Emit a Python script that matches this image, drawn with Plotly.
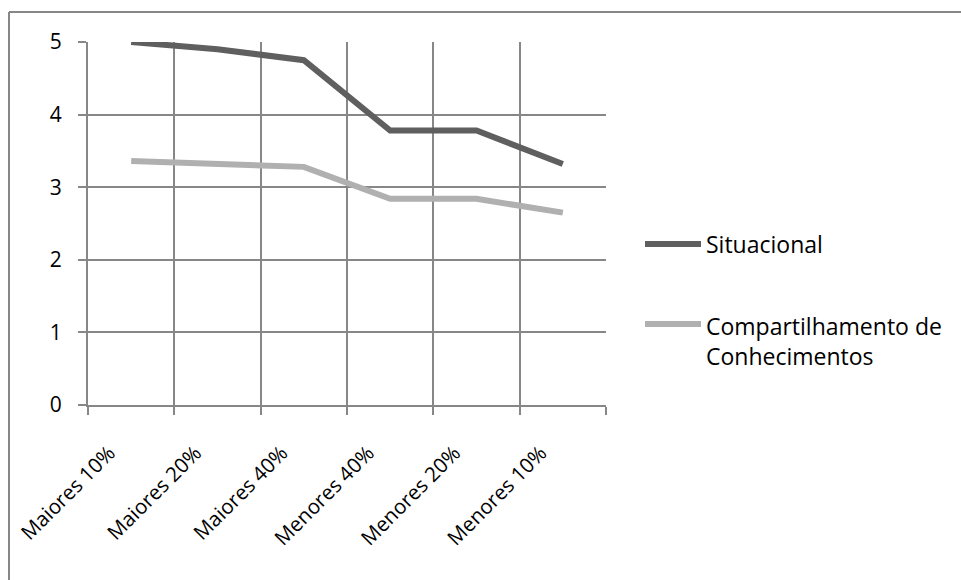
import plotly.graph_objects as go

# Categories and series values
categories = ["Maiores 10%", "Maiores 20%", "Maiores 40%",
              "Menores 40%", "Menores 20%", "Menores 10%"]
situacional = [5.0, 4.9, 4.75, 3.78, 3.78, 3.32]
compartilhamento = [3.36, 3.32, 3.28, 2.84, 2.84, 2.65]
series_names = ["Situacional", "Compartilhamento de<br>Conhecimentos"]
series_colors = ["#5f5f5f", "#b0b0b0"]
y_ticks = [0, 1, 2, 3, 4, 5]

W, H = 961, 580
L, R, T, B = 88, 355, 42, 175
PW, PH = W - L - R, H - T - B
FONT = "Open Sans"
FSIZE = 23
GRID = "#878787"


def px_x(x):
    return (x - L) / PW


def px_y(y):
    return (H - B - y) / PH


fig = go.Figure()
for name, vals, col in zip(series_names, [situacional, compartilhamento], series_colors):
    fig.add_trace(go.Scatter(
        x=categories, y=vals, mode="lines", name=name,
        line=dict(color=col, width=6), showlegend=False,
    ))

shapes = [
    # outer chart frame (top and left edges)
    dict(type="line", xref="paper", yref="paper",
         x0=px_x(9), x1=px_x(975), y0=px_y(12), y1=px_y(12),
         line=dict(color=GRID, width=2)),
    dict(type="line", xref="paper", yref="paper",
         x0=px_x(9), x1=px_x(9), y0=px_y(12), y1=px_y(590),
         line=dict(color=GRID, width=2)),
]
annotations = []
# legend entries
legend_rows = [244, 324]
for name, col, yc in zip(series_names, series_colors, legend_rows):
    shapes.append(dict(type="line", xref="paper", yref="paper",
                       x0=px_x(645), x1=px_x(701), y0=px_y(yc), y1=px_y(yc),
                       line=dict(color=col, width=6)))
    multi = "<br>" in name
    annotations.append(dict(
        xref="paper", yref="paper", x=px_x(704),
        y=px_y(yc - 16) if multi else px_y(yc),
        xanchor="left", yanchor="top" if multi else "middle",
        text=name, showarrow=False, align="left",
        font=dict(family=FONT, size=FSIZE, color="#000000"),
    ))

fig.update_layout(
    width=W, height=H,
    margin=dict(l=L, r=R, t=T, b=B),
    paper_bgcolor="white", plot_bgcolor="white",
    shapes=shapes, annotations=annotations,
    xaxis=dict(
        type="category", tickson="boundaries", ticks="outside", ticklen=8,
        tickcolor=GRID, tickwidth=2, tickangle=-45,
        ticklabelstandoff=26, ticklabelshift=-22,
        showgrid=True, gridcolor=GRID, gridwidth=2,
        showline=True, linecolor=GRID, linewidth=2,
        tickfont=dict(family=FONT, size=20.5, color="#000000"),
        range=[-0.5, 5.5], zeroline=False,
    ),
    yaxis=dict(
        range=[0, 5], tickvals=y_ticks, ticks="outside", ticklen=8,
        tickcolor=GRID, tickwidth=2, ticklabelstandoff=12,
        showgrid=True, gridcolor=GRID, gridwidth=2,
        showline=True, linecolor=GRID, linewidth=2, zeroline=False,
        tickfont=dict(family=FONT, size=21, color="#000000"),
    ),
)

fig.write_html("out.html")
